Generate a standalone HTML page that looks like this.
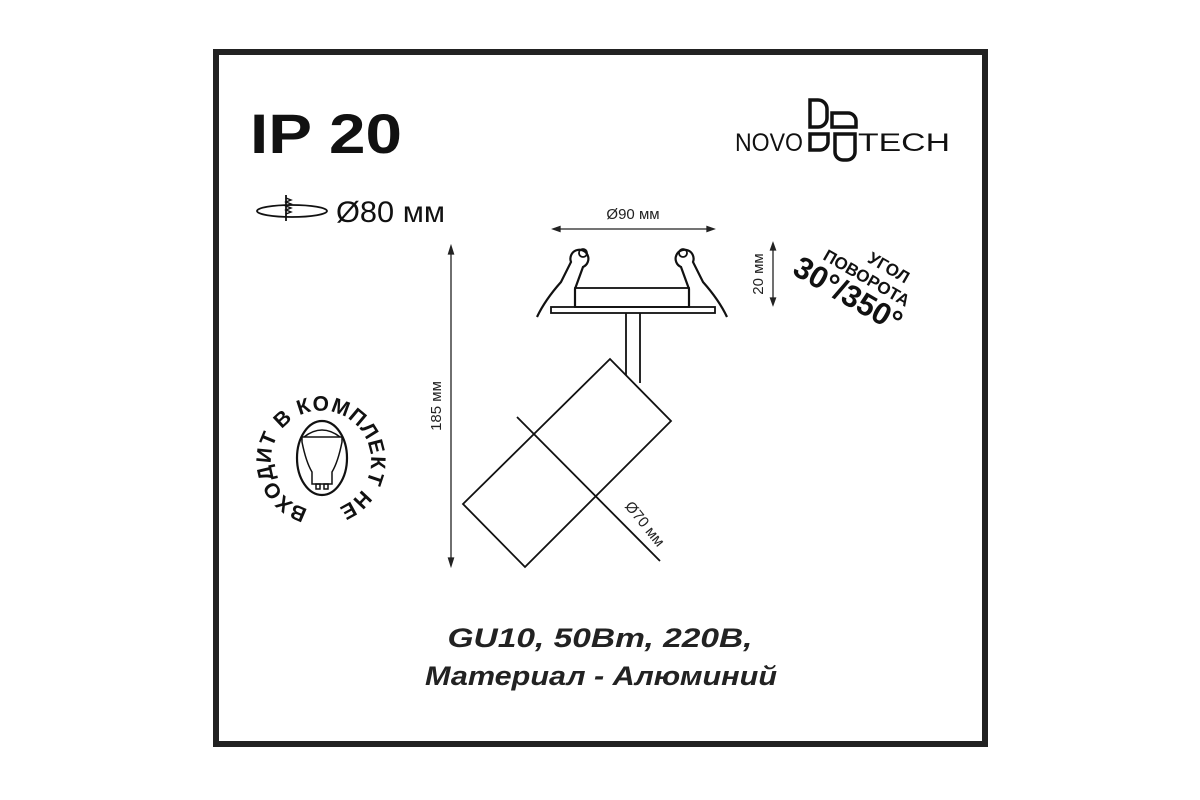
<!DOCTYPE html>
<html><head><meta charset="utf-8"><style>
html,body{margin:0;padding:0;background:#fff}
svg{display:block}
text{font-family:"Liberation Sans",sans-serif}
</style></head><body>
<svg width="1200" height="800" viewBox="0 0 1200 800" xmlns="http://www.w3.org/2000/svg">
<rect x="0" y="0" width="1200" height="800" fill="#fff"/>
<rect x="216" y="52" width="769" height="692" fill="none" stroke="#222" stroke-width="6"/>
<text x="250" y="153" font-size="56" font-weight="bold" fill="#111" textLength="152" lengthAdjust="spacingAndGlyphs">IP 20</text>
<!-- cutout icon -->
<ellipse cx="292" cy="211" rx="35" ry="6" fill="none" stroke="#111" stroke-width="1.8"/>
<line x1="286" y1="195" x2="286" y2="221" stroke="#111" stroke-width="1.8"/>
<path d="M286 198 l5 2 -5 2 5 2 -5 2 5 2 -5 2 5 2 -5 2" fill="none" stroke="#111" stroke-width="1.4"/>
<text x="336" y="222" font-size="30" fill="#111" textLength="109" lengthAdjust="spacingAndGlyphs">Ø80 мм</text>
<!-- logo -->
<text x="735" y="151" font-size="25" fill="#111" textLength="68" lengthAdjust="spacingAndGlyphs">NOVO</text>
<text x="858" y="151" font-size="25" fill="#111" textLength="92" lengthAdjust="spacingAndGlyphs">TECH</text>
<g fill="none" stroke="#111" stroke-width="3.5">
<path d="M810 100 h8 a9 9 0 0 1 9 9 v9 a9 9 0 0 1 -9 9 h-8 z"/>
<path d="M832 113 h16 a8 8 0 0 1 8 8 v6 h-24 z"/>
<path d="M810 134 h18 v8 a8 8 0 0 1 -8 8 h-10 z"/>
<path d="M835 134 h20 v18 a8 8 0 0 1 -8 8 h-4 a8 8 0 0 1 -8 -8 z"/>
</g>
<!-- dims -->
<g stroke="#222" stroke-width="1.3" fill="#222">
<line x1="556" y1="229" x2="711" y2="229"/>
<path d="M553 229 l7 -2.5 v5 z M714 229 l-7 -2.5 v5 z"/>
<line x1="773" y1="246" x2="773" y2="302"/>
<path d="M773 243 l-2.5 7 h5 z M773 305 l-2.5 -7 h5 z"/>
<line x1="451" y1="250" x2="451" y2="562"/>
<path d="M451 246 l-2.5 8 h5 z M451 566 l-2.5 -8 h5 z"/>
</g>
<text x="633" y="219" font-size="15" text-anchor="middle" fill="#222">Ø90 мм</text>
<text transform="translate(763 274) rotate(-90)" font-size="15" text-anchor="middle" fill="#222">20 мм</text>
<text transform="translate(441 406) rotate(-90)" font-size="15" text-anchor="middle" fill="#222">185 мм</text>
<text transform="translate(641 527) rotate(51)" font-size="15" text-anchor="middle" fill="#222">Ø70 мм</text>
<!-- fixture -->
<g fill="none" stroke="#111" stroke-width="1.8">
<rect x="551" y="307" width="164" height="6"/>
<rect x="575" y="288" width="114" height="19"/>
<line x1="626" y1="313" x2="626" y2="387"/>
<line x1="640" y1="313" x2="640" y2="383"/>
<polygon points="610,359 671,421 525,567 463,504" fill="#fff"/>
<line x1="517" y1="417" x2="660" y2="561"/>
<path d="M575 307 v-18 l8 -22 a9 9 0 1 0 -12 -5 l-10 20 q-16 18 -24 35" stroke-width="2.2"/>
<path d="M689 307 v-18 l-8 -22 a9 9 0 1 1 12 -5 l10 20 q16 18 24 35" stroke-width="2.2"/>
<circle cx="583" cy="253" r="4"/><circle cx="683" cy="253" r="4"/>
</g>
<!-- rotation text -->
<g transform="translate(862 282) rotate(30)" font-weight="bold" fill="#111" text-anchor="middle">
<text x="16" y="-20" font-size="17">УГОЛ</text>
<text x="2" y="0" font-size="17">ПОВОРОТА</text>
<text x="-6" y="28" font-size="31">30°/350°</text>
</g>
<!-- badge -->
<ellipse cx="322" cy="458" rx="25" ry="37" fill="none" stroke="#111" stroke-width="2.2"/>
<g fill="none" stroke="#111" stroke-width="1.5">
<path d="M302 437 h40 v5 q-4 20 -10 30 v12 h-20 v-12 q-6 -10 -10 -30 z"/>
<path d="M304 437 q18 -14 36 0"/>
<rect x="316" y="484" width="4" height="5"/><rect x="324" y="484" width="4" height="5"/>
</g>
<defs><path id="ring" d="M308 509 A50 50 0 1 1 334 509"/></defs>
<text font-size="21" font-weight="bold" fill="#111"><textPath href="#ring" textLength="282" lengthAdjust="spacing">ВХОДИТ В КОМПЛЕКТ НЕ</textPath></text>
<!-- bottom text -->
<text x="600" y="647" font-size="27" font-weight="bold" font-style="italic" text-anchor="middle" fill="#222" textLength="305" lengthAdjust="spacingAndGlyphs">GU10, 50Вт, 220В,</text>
<text x="601" y="685" font-size="27" font-weight="bold" font-style="italic" text-anchor="middle" fill="#222" textLength="352" lengthAdjust="spacingAndGlyphs">Материал - Алюминий</text>
</svg>
</body></html>
